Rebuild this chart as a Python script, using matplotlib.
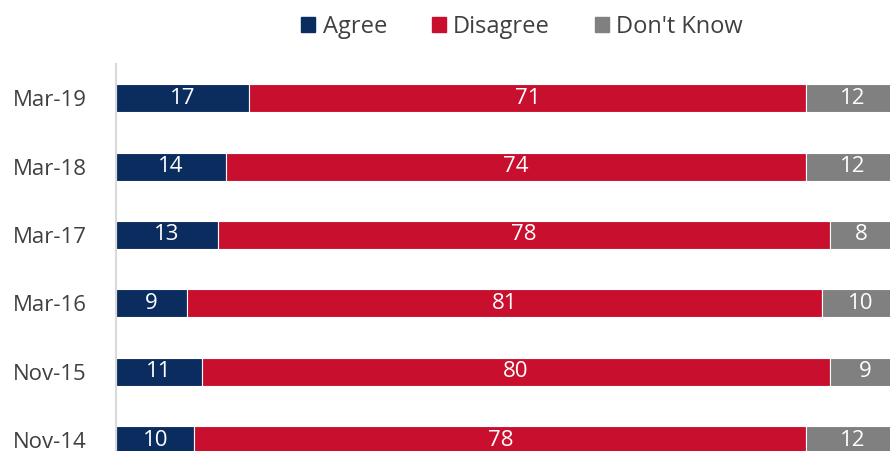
import numpy as np
import matplotlib.pyplot as plt
from matplotlib.patches import Patch

plt.rcParams['font.family'] = ['Open Sans', 'DejaVu Sans']

fechas = ['Mar-19', 'Mar-18', 'Mar-17', 'Mar-16', 'Nov-15', 'Nov-14']
agree = [17, 14, 13, 9, 11, 10]
disagree = [71, 74, 78, 81, 80, 78]
dont_know = [12, 12, 8, 10, 9, 12]

series = ['Agree', 'Disagree', "Don't Know"]
cores = ['#0b2c5e', '#c8102e', '#808080']

valores = np.array([agree, disagree, dont_know], dtype=float)

fig = plt.figure(figsize=(8.9, 4.51), dpi=100)
ax = fig.add_axes([116 / 890, 0, 1 - 116 / 890, 1 - 64 / 451])

y = np.arange(len(fechas))
esq = np.zeros(len(fechas))
for i in range(3):
    ax.barh(y, valores[i], left=esq, height=0.41, color=cores[i],
            edgecolor='white', linewidth=0.8)
    for j in range(len(fechas)):
        ax.text(esq[j] + valores[i][j] / 2, y[j], str(int(valores[i][j])),
                ha='center', va='center', color='white', fontsize=16)
    esq += valores[i]

# a barra de 100% passa um pouco da borda direita (cortada no original)
ax.set_xlim(0, 98.7)
ax.set_ylim((451 - 98) / 68.4, -0.5)
ax.set_yticks(y)
ax.set_yticklabels(fechas, fontsize=16, color='#404040')
ax.tick_params(axis='y', length=0, pad=21)
ax.set_xticks([])
for s in ['top', 'right', 'bottom']:
    ax.spines[s].set_visible(False)
ax.spines['left'].set_color('#d9d9d9')
ax.spines['left'].set_linewidth(1.5)

handles = [Patch(color=c, label=s) for c, s in zip(cores, series)]
leg = fig.legend(handles=handles, loc='center', bbox_to_anchor=(522 / 890, 1 - 27 / 451),
                 ncol=3, frameon=False, fontsize=17, handlelength=0.6, handleheight=0.6,
                 handletextpad=0.3, columnspacing=1.9)
for t in leg.get_texts():
    t.set_color('#404040')

fig.savefig('out.png', dpi=100)
